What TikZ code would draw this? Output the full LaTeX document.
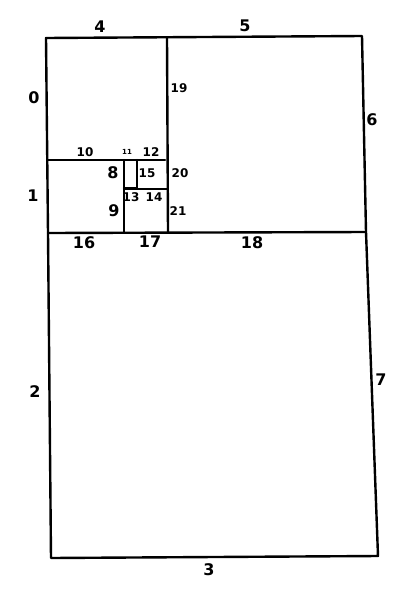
\documentclass[tikz,border=0pt]{standalone}
\usepackage{fontspec}
\setmainfont{DejaVu Sans}
\usetikzlibrary{calc}
\tikzset{
  edge/.style={line width=2.4pt,line cap=round,line join=round},
  lbl/.style={inner sep=0pt,font=\fontsize{16}{16}\selectfont\bfseries},
  smalllbl/.style={inner sep=0pt,font=\fontsize{12}{12}\selectfont\bfseries}
}
\begin{document}
\begin{tikzpicture}[x=1pt,y=-1pt]
                      \useasboundingbox (0,0) rectangle (401,600);
                      % outer frame
                      \coordinate (tl) at (46,38);
                      \coordinate (tr) at (362,36);
                      \coordinate (ml) at (48,233);
                      \coordinate (mr) at (366,232);
                      \coordinate (bl) at (51,558);
                      \coordinate (br) at (378,556);
                      \draw[edge] (tl) -- (tr) -- (mr) -- (br) -- (bl) -- (ml) -- cycle;
                      \draw[edge] (ml) -- (mr);
                      % upper part
                      \coordinate (mt) at (167,38);
                      \coordinate (mb) at (168,232);
                      \draw[edge] (mt) -- (mb);
                      \draw[edge] (48,160) -- (165,160);
                      \draw[edge] (124,160) -- (124,232);
                      \draw[edge] (124,189) -- (167,189);
                      \draw[edge] (124,188) -- (137,188) -- (137,160);
                      % labels
                      \node[lbl](l0)at(34,98){0};
                      \node[lbl](l1)at(33,196){1};
                      \node[lbl](l2)at(35,392){2};
                      \node[lbl](l3)at(209,570){3};
                      \node[lbl](l4)at(100,27){4};
                      \node[lbl](l5)at(245,26){5};
                      \node[lbl](l6)at(372,120){6};
                      \node[lbl](l7)at(381,380){7};
                      \node[lbl](l8)at(113,173){8};
                      \node[lbl](l9)at(114,211){9};
                      \node[smalllbl](l10)at(85,152){10};
                      \node[inner sep=0pt,font=\fontsize{7}{7}\selectfont\bfseries](l11)at(127,152){11};
                      \node[smalllbl](l12)at(151,152){12};
                      \node[smalllbl](l13)at(131,197){13};
                      \node[smalllbl](l14)at(154,197){14};
                      \node[smalllbl](l15)at(147,173){15};
                      \node[lbl](l16)at(84,243){16};
                      \node[lbl](l17)at(150,242){17};
                      \node[lbl](l18)at(252,243){18};
                      \node[smalllbl](l19)at(179,88){19};
                      \node[smalllbl](l20)at(180,173){20};
                      \node[smalllbl](l21)at(178,211){21};
                  \end{tikzpicture}
\end{document}
